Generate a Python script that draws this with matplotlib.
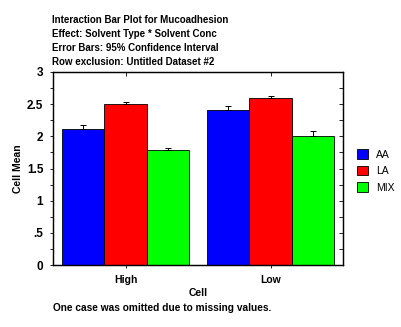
import numpy as np
import matplotlib.pyplot as plt
from matplotlib.ticker import MultipleLocator

groups = ["High", "Low"]
series = ["AA", "LA", "MIX"]
colors = ["#0000ff", "#ff0000", "#00ff00"]
means = {
    "AA": [2.11, 2.41],
    "LA": [2.50, 2.60],
    "MIX": [1.79, 2.00],
}
errs = {
    "AA": [0.06, 0.06],
    "LA": [0.04, 0.03],
    "MIX": [0.03, 0.09],
}
ytick_vals = [0, 0.5, 1, 1.5, 2, 2.5, 3]
ytick_labels = ["0", ".5", "1", "1.5", "2", "2.5", "3"]

plt.rcParams['font.family'] = ['Liberation Sans', 'DejaVu Sans']

fig = plt.figure(figsize=(4.01, 3.27), dpi=100)
W, H = 401, 327
ax = fig.add_axes([53 / W, 1 - 265 / H, 290 / W, 193 / H])

centers = np.array([0.5, 1.5])
bw = 0.29
for i, s in enumerate(series):
    x = centers + (i - 1) * bw
    ax.bar(x, means[s], width=bw, color=colors[i], edgecolor="black",
           linewidth=0.6, label=s, zorder=2)
    ax.errorbar(x, means[s], yerr=[np.zeros(2), errs[s]], fmt="none",
                ecolor="black", elinewidth=0.7, capsize=2.5, capthick=0.7, zorder=3)

ax.set_xlim(0, 2)
ax.set_ylim(0, 3)
ax.set_yticks(ytick_vals)
ax.set_yticklabels(ytick_labels, fontsize=8.5, fontweight="bold")
ax.yaxis.set_minor_locator(MultipleLocator(0.25))
ax.set_xticks(centers)
ax.set_xticklabels(groups, fontsize=7.5, fontweight="bold")
ax.tick_params(axis="y", which="both", direction="out", length=2, width=0.6,
               right=False, pad=5)
ax.tick_params(axis="x", direction="out", length=2, width=0.6, top=False, pad=5)
for sp in ax.spines.values():
    sp.set_linewidth(0.9)

# inward ticks on the right and top edges
ax2 = ax.twinx()
ax2.set_ylim(0, 3)
ax2.yaxis.set_major_locator(MultipleLocator(0.25))
ax2.tick_params(axis="y", direction="in", length=3, width=0.6, labelright=False)
ax3 = ax.twiny()
ax3.set_xlim(0, 2)
ax3.set_xticks(centers)
ax3.tick_params(axis="x", direction="in", length=3, width=0.6, labeltop=False)

ax.set_ylabel("Cell Mean", fontsize=7.5, fontweight="bold", labelpad=3)
ax.set_xlabel("Cell", fontsize=7.5, fontweight="bold", labelpad=2)

handles, labels = ax.get_legend_handles_labels()
fig.legend(handles, labels, loc="upper left", bbox_to_anchor=(348 / W, 1 - 140 / H),
           frameon=False, fontsize=7.5, handlelength=1.0, handleheight=1.0,
           handletextpad=0.8, labelspacing=0.6)

title_lines = [
    "Interaction Bar Plot for Mucoadhesion",
    "Effect: Solvent Type * Solvent Conc",
    "Error Bars: 95% Confidence Interval",
    "Row exclusion: Untitled Dataset #2",
]
for k, t in enumerate(title_lines):
    fig.text(52 / W, 1 - (20 + 14 * k) / H, t, fontsize=7, fontweight="bold",
             va="center", ha="left")

fig.text(53 / W, 1 - 308 / H, "One case was omitted due to missing values.",
         fontsize=7.3, fontweight="bold", va="center", ha="left")

fig.savefig("out.png", dpi=100)
